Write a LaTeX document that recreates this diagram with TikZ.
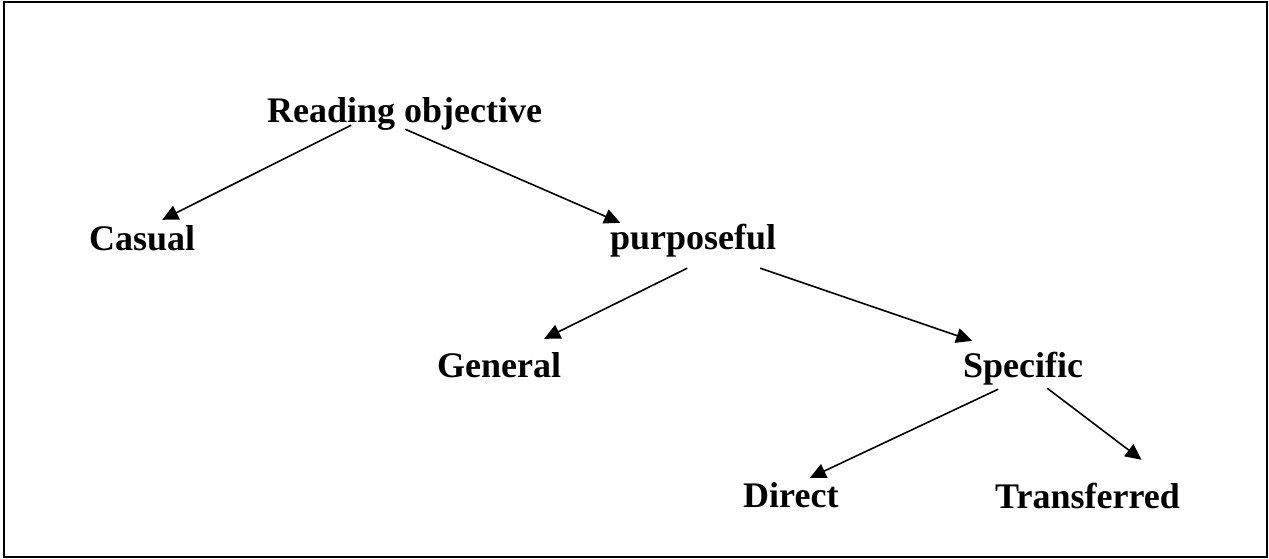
\documentclass[tikz,border=0pt]{standalone}
\usepackage{fontspec}
\setmainfont{Liberation Serif}
\usetikzlibrary{arrows.meta,calc}
\begin{document}
\begin{tikzpicture}
[x=1pt,y=-1pt,
  worddecorate/.style={anchor=base west,inner sep=0pt,text height=25pt,text depth=5pt,
    font=\fontsize{36}{40}\selectfont\bfseries},%
  arrowdecorate/.style={-{Triangle[length=16pt,width=15pt]},line width=1.6pt}]
\useasboundingbox (0,0) rectangle (1269,558);
%%% frame
\draw[line width=2pt] (3.5,1.5) rectangle (1266.5,556.5);
% nodes or words
\node (rd) at (267,122) [worddecorate] {Reading objective};
\node (cs) at (89,250) [worddecorate] {Casual};
\node (pp) at (610,249) [worddecorate] {purposeful};
\node (gn) at (437,377) [worddecorate] {General};
\node (sp) at (963,377) [worddecorate] {Specific};
\node (dr) at (743,507) [worddecorate] {Direct};
\node (tf) at (995,508) [worddecorate] {Transferred};
% arrows
\draw[arrowdecorate] ($(rd.south)+(-53.5,-2)$) -- ($(cs.north)+(20,-5)$);
\draw[arrowdecorate] ($(rd.south)+(0.5,2)$) -- ($(pp.north)+(-73,-1)$);
\draw[arrowdecorate] ($(pp.south)+(-6,14)$) -- ($(gn.north)+(45,-13)$);
\draw[arrowdecorate] ($(pp.south)+(67,14)$) -- ($(sp.north)+(-51,-11)$);
\draw[arrowdecorate] ($(sp.south)+(-25,7)$) -- ($(dr.north)+(19,-4)$);
\draw[arrowdecorate] ($(sp.south)+(24,6)$) -- ($(tf.north)+(54,-23)$);
\end{tikzpicture}
\end{document}
